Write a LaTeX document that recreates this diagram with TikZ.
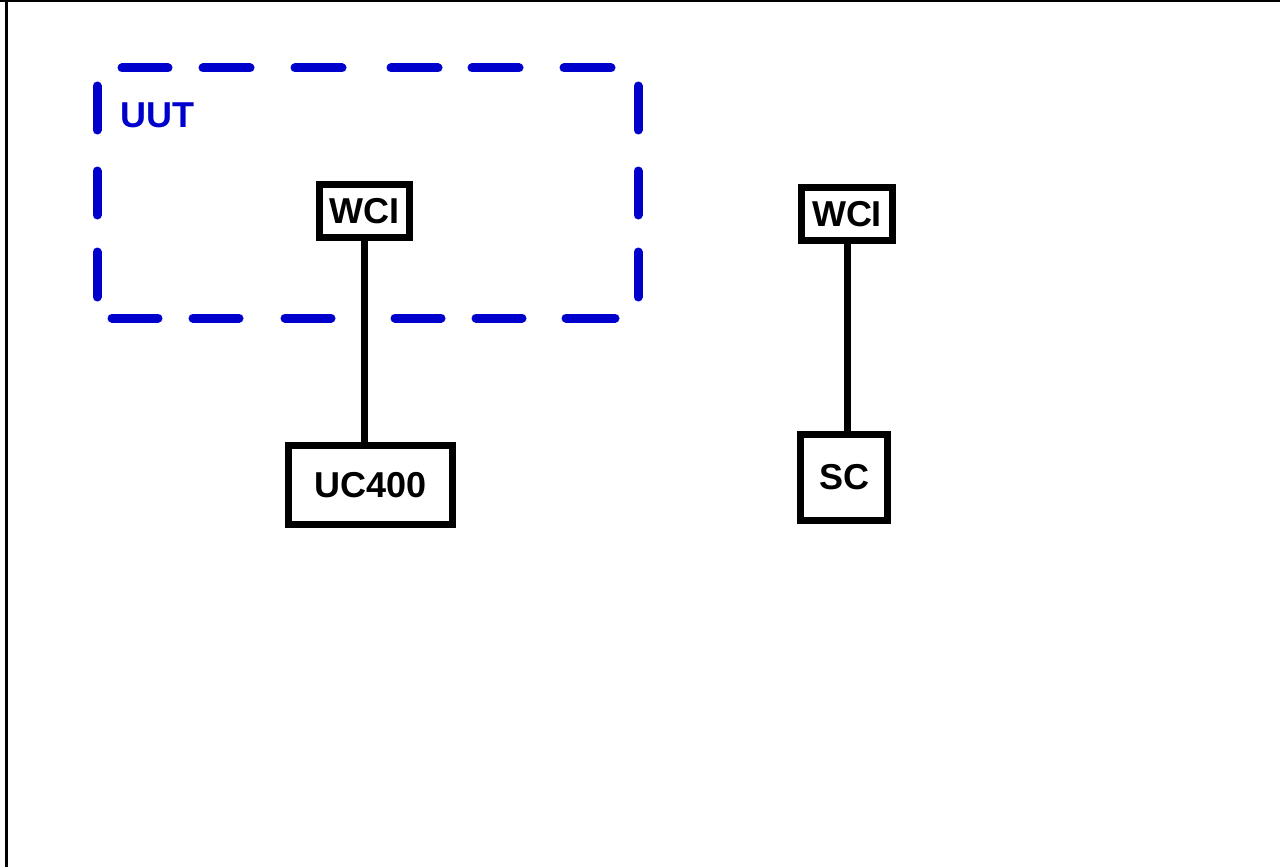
\documentclass[tikz,border=0pt]{standalone}
\usepackage{fontspec}
\setmainfont{Liberation Sans}
\usepackage{xcolor}
\usetikzlibrary{positioning}
\definecolor{uutblue}{RGB}{0,0,205}
\tikzset{
  unitbox/.style={draw, line width=7pt, inner sep=0pt, font=\bfseries\fontsize{36}{40}\selectfont},
  uutdash/.style={uutblue, line width=9pt, line cap=round},
  link/.style={line width=7pt}
}
\begin{document}
\begin{tikzpicture}[x=1pt, y=-1pt]
            \useasboundingbox (0,0) rectangle (1280,867);
            \draw[line width=3pt] (6,867) -- (6,0);
            \draw[line width=2pt] (0,1) -- (1280,1);

            % dashed UUT frame, dash by dash
            \foreach \a/\b in {122/168, 203/250, 295/342, 391/438, 472/519, 564/611}
            \draw[uutdash] (\a,68) -- (\b,68);
            \foreach \a/\b in {112/158, 193/239, 285/331, 395/441, 476/522, 566/615}
            \draw[uutdash] (\a,318) -- (\b,318);
            \foreach \a/\b in {86/130, 171/215, 252/297}
            \draw[uutdash] (97,\a) -- (97,\b);
            \foreach \a/\b in {86/130, 171/215, 252/297}
            \draw[uutdash] (638,\a) -- (638,\b);
            \node[anchor=base west, inner sep=0pt, text=uutblue, font=\bfseries\fontsize{36}{40}\selectfont] (uut) at (120,127) {UUT};

            \node[unitbox, minimum width=90pt, minimum height=53pt] (wci1) at (364.5,211) {WCI};
            \node[unitbox, minimum width=164pt, minimum height=79pt] (uc400) at (370.5,485) {UC400};
            \node[unitbox, minimum width=91pt, minimum height=53pt] (wci2) at (847,214) {WCI};
            \node[unitbox, minimum width=87pt, minimum height=86pt] (sc) at (844,477.5) {SC};

            \draw[link] (wci1.south) -- (wci1.south |- uc400.north);
            \draw[link] (wci2.south) -- (wci2.south |- sc.north);
        \end{tikzpicture}
\end{document}
